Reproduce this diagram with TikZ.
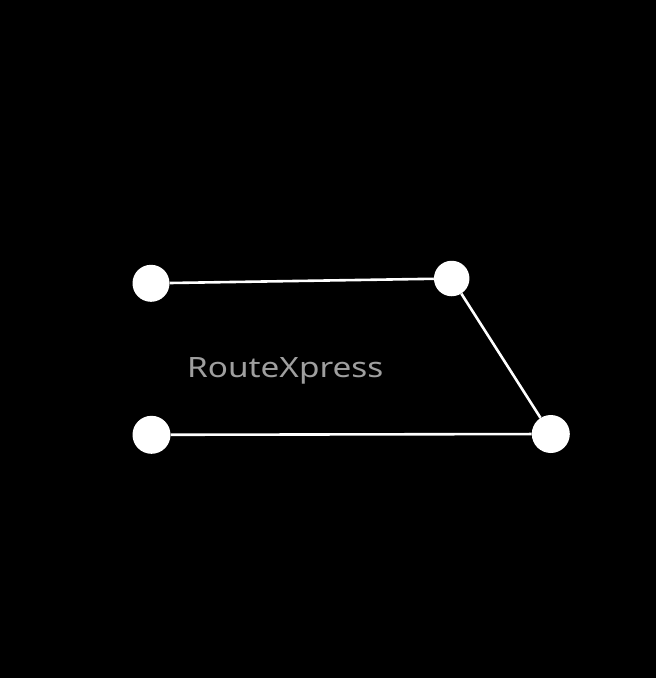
\documentclass[tikz,border=0pt]{standalone}
\usepackage{fontspec}
\setmainfont{Noto Sans}
\newfontfamily\brandfont{Noto Sans}[FakeStretch=1.19]
\usepackage{xcolor}
\usepackage{tikz}

\begin{document}
\begin{tikzpicture}[x=1pt,y=-1pt,
  stop/.style={circle,fill=white,inner sep=0pt},
  route/.style={white,line width=2.6pt}]
  \fill[black] (0,0) rectangle (656,678);
  \useasboundingbox (0,0) rectangle (656,678);
  \node[stop,minimum size=37pt] (a) at (151,283.3) {};
  \node[stop,minimum size=35.5pt] (b) at (451.7,278.5) {};
  \node[stop,minimum size=38pt] (c) at (550.8,434) {};
  \node[stop,minimum size=38pt] (d) at (151.5,434.8) {};
  \draw[route] (a) -- (b) -- (c) -- (d);
  \node[gray!75,font=\brandfont\fontsize{28}{32}\selectfont,anchor=base west,inner sep=0pt] (name) at (187,377) {RouteXpress};
\end{tikzpicture}
\end{document}
